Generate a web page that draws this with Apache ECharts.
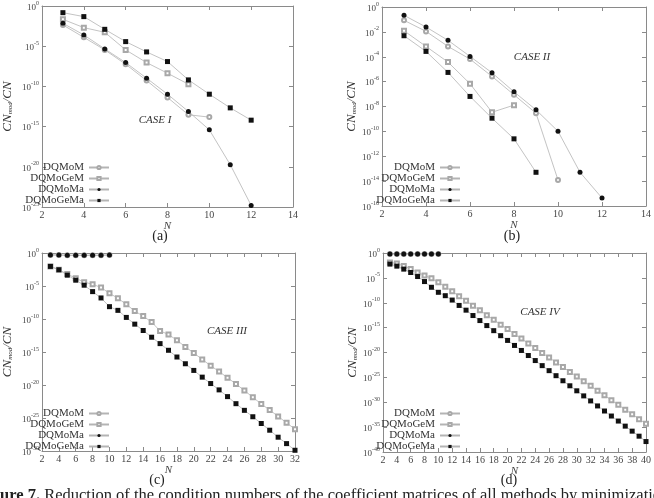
<!DOCTYPE html>
<html>
<head>
<meta charset="utf-8">
<script src="https://cdn.jsdelivr.net/npm/echarts@6.0.0/dist/echarts.min.js"></script>
<style>
  html, body { margin: 0; padding: 0; background: #fff; }
  #main { width: 654px; height: 498px; }
</style>
</head>
<body>
<div id="main"></div>
<script>
// values are log10(CN_mod/CN)
var names = ['DQMoM', 'DQMoGeM', 'DQMoMa', 'DQMoGeMa'];

// case I (a) and case II (b)
var nAB = [3, 4, 5, 6, 7, 8, 9, 10, 11, 12];
var a_DQMoM    = [-2.36, -3.9, -5.46, -7.24, -9.27, -11.38, -13.53, -13.82];
var a_DQMoGeM  = [-1.66, -2.69, -3.27, -5.46, -7.04, -8.36, -9.73];
var a_DQMoMa   = [-2.15, -3.6, -5.34, -7.04, -8.98, -10.97, -13.12, -15.4, -19.74, -24.8];
var a_DQMoGeMa = [-0.83, -1.32, -2.9, -4.43, -5.71, -6.91, -9.19, -10.97, -12.67, -14.2];

var b_DQMoM    = [-1.07, -1.96, -3.17, -4.19, -5.58, -7.06, -8.54, -13.91];
var b_DQMoGeM  = [-1.91, -3.17, -4.43, -6.17, -8.46, -7.89];
var b_DQMoMa   = [-0.67, -1.61, -2.68, -3.97, -5.29, -6.82, -8.27, -9.99, -13.29, -15.36];
var b_DQMoGeMa = [-2.31, -3.57, -5.26, -7.19, -8.94, -10.6, -13.29];

// case III (c)
var nC = [3, 4, 5, 6, 7, 8, 9, 10, 11, 12, 13, 14, 15, 16, 17, 18, 19, 20, 21, 22, 23, 24, 25, 26, 27, 28, 29, 30, 31, 32];
var c_DQMoM    = [-0.3, -0.3, -0.35, -0.35, -0.35, -0.35, -0.35, -0.3];
var c_DQMoGeM  = [-2.03, -2.54, -3.2, -3.81, -4.42, -4.73, -5.24, -6.1, -6.86, -7.78, -8.8, -9.56, -10.47, -11.8, -12.35,
                  -13.22, -14.23, -15.15, -16.12, -17.08, -17.95, -18.91, -19.83, -20.84, -21.86, -22.88, -23.79, -24.76, -25.73, -26.69];
var c_DQMoMa   = [-0.3, -0.3, -0.35, -0.35, -0.35, -0.35, -0.35, -0.3];
var c_DQMoGeMa = [-2.03, -2.54, -3.36, -4.12, -4.88, -5.85, -6.81, -8.13, -8.69, -9.76, -10.78, -11.74, -12.76, -13.73, -14.74,
                  -15.76, -16.78, -17.79, -18.81, -19.78, -20.74, -21.76, -22.83, -23.84, -24.81, -25.83, -26.85, -27.91, -28.88, -29.89];

// case IV (d)
var nD = [3, 4, 5, 6, 7, 8, 9, 10, 11, 12, 13, 14, 15, 16, 17, 18, 19, 20, 21, 22, 23, 24, 25, 26, 27, 28, 29, 30,
          31, 32, 33, 34, 35, 36, 37, 38, 39, 40];
var d_DQMoM    = [-0.2, -0.2, -0.2, -0.2, -0.2, -0.2, -0.2, -0.2];
var d_DQMoGeM  = [-1.9, -2.1, -2.6, -3.2, -3.9, -4.5, -5.1, -5.9, -6.8, -7.7, -8.7, -9.6, -10.6, -11.5, -12.5, -13.4,
                  -14.4, -15.3, -16.3, -17.2, -18.2, -19.1, -20.1, -21.0, -22.0, -22.9, -23.9, -24.8, -25.8, -26.7,
                  -27.7, -28.6, -29.6, -30.5, -31.5, -32.4, -33.4, -34.3];
var d_DQMoMa   = [-0.2, -0.2, -0.2, -0.2, -0.2, -0.2, -0.2, -0.2];
var d_DQMoGeMa = [-2.23, -2.64, -3.24, -3.92, -4.73, -5.74, -6.89, -7.9, -8.58, -9.46, -10.54, -11.49, -12.57, -13.58,
                  -14.59, -15.61, -16.62, -17.57, -18.58, -19.59, -20.61, -21.62, -22.64, -23.65, -24.66, -25.68,
                  -26.69, -27.7, -28.72, -29.73, -30.74, -31.76, -32.77, -33.78, -34.8, -35.81, -36.82, -37.9];

// axis ranges per panel: x max, y min (decades), y label step
var xMax  = [14, 14, 32, 40];
var yMin  = [-25, -16, -30, -40];
var yStep = [5, 2, 5, 5];
var caseLabels = ['CASE I', 'CASE II', 'CASE III', 'CASE IV'];
var panelLabels = ['(a)', '(b)', '(c)', '(d)'];

var serif = '"Liberation Serif", "DejaVu Serif", serif';
var axisGray = '#8a8a8a';
var lineGray = '#b4b4b4';

var grids = [
  { left: 29,  top: 6,   width: 264, height: 201 },
  { left: 382, top: 7,   width: 265, height: 199 },
  { left: 29,  top: 253, width: 266, height: 198 },
  { left: 383, top: 253, width: 264, height: 199 }
];

var marks = {
  DQMoM:    { symbol: 'emptyCircle', size: 4, color: '#a8a8a8', bw: 1 },
  DQMoGeM:  { symbol: 'emptyRect',   size: 4, color: '#a8a8a8', bw: 1 },
  DQMoMa:   { symbol: 'circle',      size: 5, color: '#111', bw: 0 },
  DQMoGeMa: { symbol: 'rect',        size: 5, color: '#111', bw: 0 }
};

function mkSeries(name, p, ns, vals) {
  var m = marks[name];
  var pts = [];
  for (var i = 0; i < vals.length; i++) pts.push([ns[i], vals[i]]);
  return {
    name: name, type: 'line', xAxisIndex: p * 2, yAxisIndex: p * 2,
    data: pts, symbol: m.symbol, symbolSize: m.size, showAllSymbol: true,
    itemStyle: { color: m.color, borderColor: m.color, borderWidth: m.bw },
    lineStyle: { color: lineGray, width: 0.8 },
    emphasis: { disabled: true }
  };
}

var xAxes = [], yAxes = [], legends = [], graphics = [];
var tick = { show: true, inside: true, length: 4, lineStyle: { color: axisGray } };
var aline = { show: true, onZero: false, lineStyle: { color: axisGray, width: 1 } };

for (var p = 0; p < 4; p++) {
  xAxes.push({
    type: 'value', gridIndex: p, min: 2, max: xMax[p], interval: 2, position: 'bottom',
    axisLine: aline, axisTick: tick, splitLine: { show: false },
    axisLabel: { fontFamily: serif, fontSize: 10, color: '#444', margin: 3 },
    name: 'N', nameLocation: 'middle', nameGap: 13,
    nameTextStyle: { fontFamily: serif, fontStyle: 'italic', fontSize: 11, color: '#444' }
  });
  xAxes.push({
    type: 'value', gridIndex: p, min: 2, max: xMax[p], interval: 2, position: 'top',
    axisLine: aline, axisTick: tick, splitLine: { show: false }, axisLabel: { show: false }
  });
  yAxes.push({
    type: 'value', gridIndex: p, min: yMin[p], max: 0, interval: yStep[p], position: 'left',
    axisLine: aline, axisTick: tick, splitLine: { show: false },
    axisLabel: {
      margin: 3,
      formatter: function (v) { return '{b|10}{s|' + v + '}'; },
      rich: {
        b: { fontFamily: serif, fontSize: 9, color: '#444', lineHeight: 12, verticalAlign: 'bottom' },
        s: { fontFamily: serif, fontSize: 6, color: '#444', lineHeight: 12, verticalAlign: 'top' }
      }
    },
    name: '{i|CN}{s|mod}{i|/CN}', nameLocation: 'middle', nameRotate: 90,
    nameGap: (p % 2 === 0) ? 28 : 23,
    nameTextStyle: {
      rich: {
        i: { fontFamily: serif, fontStyle: 'italic', fontSize: 13, color: '#333', lineHeight: 16, verticalAlign: 'bottom' },
        s: { fontFamily: serif, fontStyle: 'italic', fontSize: 7, color: '#333', lineHeight: 16, verticalAlign: 'bottom' }
      }
    }
  });
  yAxes.push({
    type: 'value', gridIndex: p, min: yMin[p], max: 0, interval: yStep[p], position: 'right',
    axisLine: aline, axisTick: tick, splitLine: { show: false }, axisLabel: { show: false }
  });

  legends.push({
    data: names, orient: 'vertical', align: 'right',
    right: (p % 2 === 0) ? 544 : 193,
    top: (p < 2) ? 162 : 408,
    itemWidth: 20, itemHeight: 4, itemGap: 0, padding: 0,
    selectedMode: false,
    textStyle: { fontFamily: serif, fontSize: 11, color: '#333', lineHeight: 11 }
  });
}

var casePos = [[155, 120], [532, 57], [227, 331], [540, 312]];
var panelPos = [[160, 236], [512, 236], [157, 480], [509, 480]];
for (var k = 0; k < 4; k++) {
  graphics.push({
    type: 'text', x: casePos[k][0], y: casePos[k][1],
    style: { text: caseLabels[k], fontFamily: serif, fontStyle: 'italic', fontSize: 11, fill: '#333',
             align: 'center', verticalAlign: 'middle' }
  });
  graphics.push({
    type: 'text', x: panelPos[k][0], y: panelPos[k][1],
    style: { text: panelLabels[k], fontFamily: serif, fontSize: 14, fill: '#222',
             align: 'center', verticalAlign: 'middle' }
  });
}
graphics.push({
  type: 'text', x: 0, y: 487,
  style: {
    text: '{b|ure 7.} Reduction of the condition numbers of the coefficient matrices of all methods by minimization',
    fontFamily: serif, fontSize: 16.5, fill: '#222', align: 'left', verticalAlign: 'top',
    rich: { b: { fontFamily: serif, fontSize: 16.5, fontWeight: 'bold', fill: '#222' } }
  }
});

var series = [
  mkSeries('DQMoM', 0, nAB, a_DQMoM),
  mkSeries('DQMoGeM', 0, nAB, a_DQMoGeM),
  mkSeries('DQMoMa', 0, nAB, a_DQMoMa),
  mkSeries('DQMoGeMa', 0, nAB, a_DQMoGeMa),
  mkSeries('DQMoM', 1, nAB, b_DQMoM),
  mkSeries('DQMoGeM', 1, nAB, b_DQMoGeM),
  mkSeries('DQMoMa', 1, nAB, b_DQMoMa),
  mkSeries('DQMoGeMa', 1, nAB, b_DQMoGeMa),
  mkSeries('DQMoM', 2, nC, c_DQMoM),
  mkSeries('DQMoGeM', 2, nC, c_DQMoGeM),
  mkSeries('DQMoMa', 2, nC, c_DQMoMa),
  mkSeries('DQMoGeMa', 2, nC, c_DQMoGeMa),
  mkSeries('DQMoM', 3, nD, d_DQMoM),
  mkSeries('DQMoGeM', 3, nD, d_DQMoGeM),
  mkSeries('DQMoMa', 3, nD, d_DQMoMa),
  mkSeries('DQMoGeMa', 3, nD, d_DQMoGeMa)
];

var myChart = echarts.init(document.getElementById('main'), null, { renderer: 'canvas' });
myChart.setOption({
  animation: false,
  backgroundColor: '#fff',
  grid: grids,
  xAxis: xAxes,
  yAxis: yAxes,
  legend: legends,
  graphic: graphics,
  series: series
});
</script>
</body>
</html>
